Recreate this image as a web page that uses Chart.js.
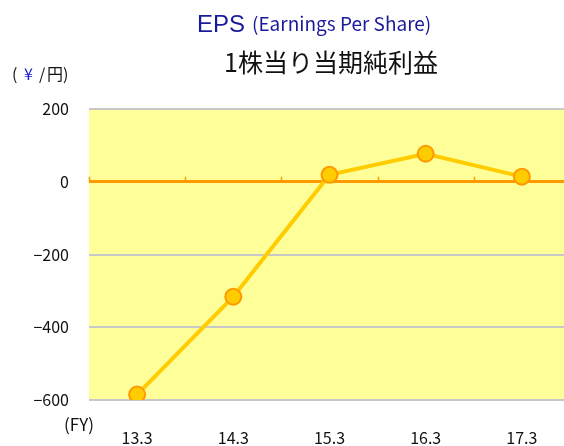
<!DOCTYPE html>
<html lang="ja">
<head>
<meta charset="UTF-8">
<title>EPS 1株当り当期純利益</title>
<script src="https://cdn.jsdelivr.net/npm/chart.js"></script>
<style>
    html, body {
        margin: 0;
        padding: 0;
        background: #fff;
        overflow: hidden;
        width: 564px;
        height: 446px;
    }
    .wrap {
        width: 580px;
        height: 446px;
    }
</style>
</head>
<body>
<div class="wrap"><canvas id="epsChart" width="580" height="446"></canvas></div>
<script>
    // data
    const fiscalYears = ['13.3', '14.3', '15.3', '16.3', '17.3'];
    const epsValues = [-585, -316, 19, 77, 14];
    const yTicks = [200, 0, -200, -400, -600];

    const FONT = '"Noto Sans CJK JP", "DejaVu Sans", sans-serif';

    // yellow plot background + small marks on the zero line + header texts
    const decor = {
        id: 'decor',
        beforeDraw(chart) {
            const { ctx, chartArea: a } = chart;
            ctx.save();
            ctx.fillStyle = '#FFFF99';
            ctx.fillRect(a.left, a.top, a.right - a.left, a.bottom - a.top);
            ctx.restore();
        },
        beforeDatasetsDraw(chart) {
            const { ctx, scales } = chart;
            const x = scales.x, y = scales.y;
            const y0 = y.getPixelForValue(0);
            const step = x.getPixelForValue(1) - x.getPixelForValue(0);
            ctx.save();
            ctx.strokeStyle = '#FF9900';
            ctx.lineWidth = 1.5;
            for (let i = 0; i < fiscalYears.length; i++) {
                const px = Math.round(x.getPixelForValue(i) - step / 2) + 0.5;
                ctx.beginPath();
                ctx.moveTo(px, y0 - 5);
                ctx.lineTo(px, y0);
                ctx.stroke();
            }
            ctx.restore();
        },
        afterDraw(chart) {
            const ctx = chart.ctx;
            ctx.save();
            ctx.textBaseline = 'alphabetic';
            // title line
            ctx.fillStyle = '#1A1A9C';
            ctx.font = '24px "Liberation Sans", Arial, sans-serif';
            ctx.textAlign = 'left';
            ctx.fillText('EPS', 197, 32);
            ctx.font = '19px ' + FONT;
            ctx.fillText('(Earnings Per Share)', 252, 31);
            // subtitle
            ctx.fillStyle = '#111';
            ctx.font = '25px ' + FONT;
            ctx.textAlign = 'center';
            ctx.fillText('1株当り当期純利益', 331, 72);
            // unit
            ctx.font = '16px ' + FONT;
            ctx.textAlign = 'left';
            ctx.fillStyle = '#111';
            ctx.fillText('(', 12, 80);
            ctx.fillStyle = '#1A1AD0';
            ctx.fillText('¥', 24, 80);
            ctx.fillStyle = '#111';
            ctx.fillText('/', 39, 80);
            ctx.fillText('円', 47, 80);
            ctx.fillText(')', 63, 80);
            // FY label
            ctx.font = '17px ' + FONT;
            ctx.fillText('(FY)', 64, 431);
            ctx.restore();
        }
    };

    new Chart(document.getElementById('epsChart'), {
        type: 'line',
        data: {
            labels: fiscalYears,
            datasets: [{
                data: epsValues,
                borderColor: '#FFCC00',
                borderWidth: 4,
                pointRadius: 8,
                pointBackgroundColor: '#FFCC00',
                pointBorderColor: '#FF9900',
                pointBorderWidth: 2,
                tension: 0
            }]
        },
        options: {
            responsive: false,
            animation: false,
            layout: { padding: { top: 109, right: 8, left: 0, bottom: 0 } },
            plugins: {
                legend: { display: false },
                tooltip: { enabled: false }
            },
            scales: {
                x: {
                    offset: true,
                    grid: { display: false, drawTicks: false },
                    border: { display: false },
                    ticks: {
                        color: '#111',
                        font: { family: FONT, size: 16 },
                        padding: 28,
                        maxRotation: 0
                    },
                    afterFit(axis) { axis.height = 46; }
                },
                y: {
                    min: -600,
                    max: 200,
                    afterBuildTicks(axis) {
                        axis.ticks = yTicks.map(v => ({ value: v }));
                    },
                    grid: {
                        drawTicks: false,
                        color: ctx => ctx.tick && ctx.tick.value === 0 ? '#FF9900' : '#C8C8C8',
                        lineWidth: ctx => ctx.tick && ctx.tick.value === 0 ? 3 : 2
                    },
                    border: { display: false },
                    ticks: {
                        color: '#111',
                        font: { family: FONT, size: 16 },
                        padding: 20,
                        callback: v => (v < 0 ? '−' + Math.abs(v) : String(v))
                    },
                    afterFit(axis) { axis.width = 89; }
                }
            }
        },
        plugins: [decor]
    });
</script>
</body>
</html>
